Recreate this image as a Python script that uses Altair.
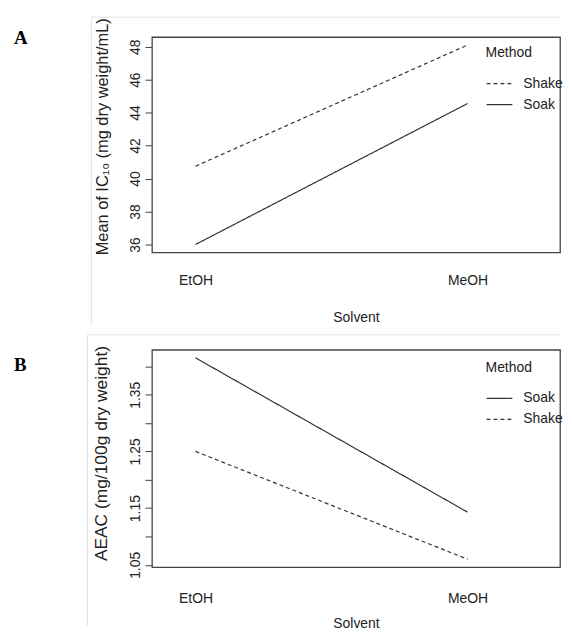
import altair as alt
import pandas as pd

# ---------------- data ----------------
solvents = ["EtOH", "MeOH"]
ic10_shake = [40.75, 48.1]
ic10_soak = [36.0, 44.55]
aeac_soak = [1.415, 1.143]
aeac_shake = [1.25, 1.06]
ic10_ticks = [36, 38, 40, 42, 44, 46, 48]
aeac_ticks = [1.05, 1.10, 1.15, 1.20, 1.25, 1.30, 1.35, 1.40]

INK = "#333333"
TXT = "#222222"
SANS = "Liberation Sans, Arial"
SERIF = "Liberation Serif, Times New Roman"
DASH = {"Shake": [4, 3], "Soak": [1, 0]}
PLOT_W = 411


def padded(vals):
    lo, hi = min(vals), max(vals)
    r = hi - lo
    return [lo - 0.04 * r, hi + 0.04 * r]


def panel(df, letter, ytitle, ytitle_size, yticks, label_expr, order, height,
          frame_dx, frame_dy, frame_end, title_y, tag_y, xlab_pad, xtitle_pad,
          legend_y):
    ydom = padded(list(df["Value"]))
    lines = alt.Chart(df).mark_line(color=INK, strokeWidth=1.2).encode(
        x=alt.X(
            "Solvent:N",
            sort=solvents,
            scale=alt.Scale(type="point", padding=0.25, align=0.32),
            axis=alt.Axis(
                domain=False, ticks=False, labelAngle=0,
                labelFont=SANS, labelFontSize=14, labelColor=TXT,
                labelPadding=xlab_pad,
                title="Solvent", titleFont=SANS, titleFontSize=14,
                titleFontWeight="normal", titleColor=TXT, titlePadding=xtitle_pad,
            ),
        ),
        y=alt.Y(
            "Value:Q",
            scale=alt.Scale(domain=ydom, nice=False, zero=False),
            axis=alt.Axis(
                values=yticks, domain=False, grid=False,
                tickSize=7, tickColor="#444444", tickWidth=1,
                labelAngle=270, labelAlign="center", labelBaseline="alphabetic",
                labelFont=SANS, labelFontSize=14, labelColor=TXT,
                labelPadding=6, labelExpr=label_expr, labelOverlap=False,
                title=ytitle, titleFont=SANS, titleFontSize=ytitle_size,
                titleFontWeight="normal", titleColor=TXT,
                titleAngle=270, titleBaseline="bottom", titleAlign="center",
                titleX=-42, titleY=title_y,
            ),
        ),
        strokeDash=alt.StrokeDash(
            "Method:N",
            scale=alt.Scale(domain=order, range=[DASH[m] for m in order]),
            legend=alt.Legend(
                orient="none", legendX=336, legendY=legend_y, padding=0,
                title="Method", titleFont=SANS, titleFontSize=14,
                titleFontWeight="normal", titleColor=TXT, titlePadding=10,
                labelFont=SANS, labelFontSize=14, labelColor=TXT,
                labelOffset=10, rowPadding=-2,
                symbolType="stroke", symbolSize=676, symbolStrokeWidth=1.2,
                symbolStrokeColor=INK,
            ),
        ),
    )
    one = pd.DataFrame({"t": [letter]})
    frame_left = alt.Chart(one).mark_rule(color="#e2e2e2", strokeWidth=1).encode(
        x=alt.value(frame_dx), y=alt.value(frame_dy), y2=alt.value(frame_end)
    )
    frame_top = alt.Chart(one).mark_rule(color="#e2e2e2", strokeWidth=1).encode(
        x=alt.value(frame_dx), x2=alt.value(PLOT_W + 1), y=alt.value(frame_dy)
    )
    tag = alt.Chart(one).mark_text(
        font=SERIF, fontWeight="bold", fontSize=19, align="left",
        baseline="alphabetic", color="black",
    ).encode(x=alt.value(-139), y=alt.value(tag_y), text="t:N")
    return alt.layer(frame_left, frame_top, lines, tag).properties(
        width=PLOT_W, height=height
    )


df_a = pd.DataFrame({
    "Solvent": solvents * 2,
    "Method": ["Shake"] * 2 + ["Soak"] * 2,
    "Value": ic10_shake + ic10_soak,
})
df_b = pd.DataFrame({
    "Solvent": solvents * 2,
    "Method": ["Soak"] * 2 + ["Shake"] * 2,
    "Value": aeac_soak + aeac_shake,
})

panel_a = panel(df_a, "A", "Mean of IC₁₀ (mg dry weight/mL)", 16.5, ic10_ticks,
                "datum.label", ["Shake", "Soak"], 217, -61, -20, 290, 100, 7,
                21, 24, 9)
panel_b = panel(
    df_b, "B", "AEAC (mg/100g dry weight)", 17.5, aeac_ticks,
    "(round(datum.value*100) % 10 == 5 && datum.value < 1.38) ? format(datum.value, '.2f') : ''",
    ["Soak", "Shake"], 219, -65, -15, 278, 104, 21, 25, 11, 11,
)

chart = (
    alt.vconcat(panel_a, panel_b, spacing=6)
    .resolve_scale(strokeDash="independent", x="independent", y="independent")
    .resolve_legend(strokeDash="independent")
    .properties(padding={"left": 5, "top": 5, "right": 0, "bottom": 0},
                background="white")
    .configure_view(stroke="#444444", strokeWidth=1.3)
)

chart.save("out.html", embed_options={"renderer": "svg", "actions": False})
